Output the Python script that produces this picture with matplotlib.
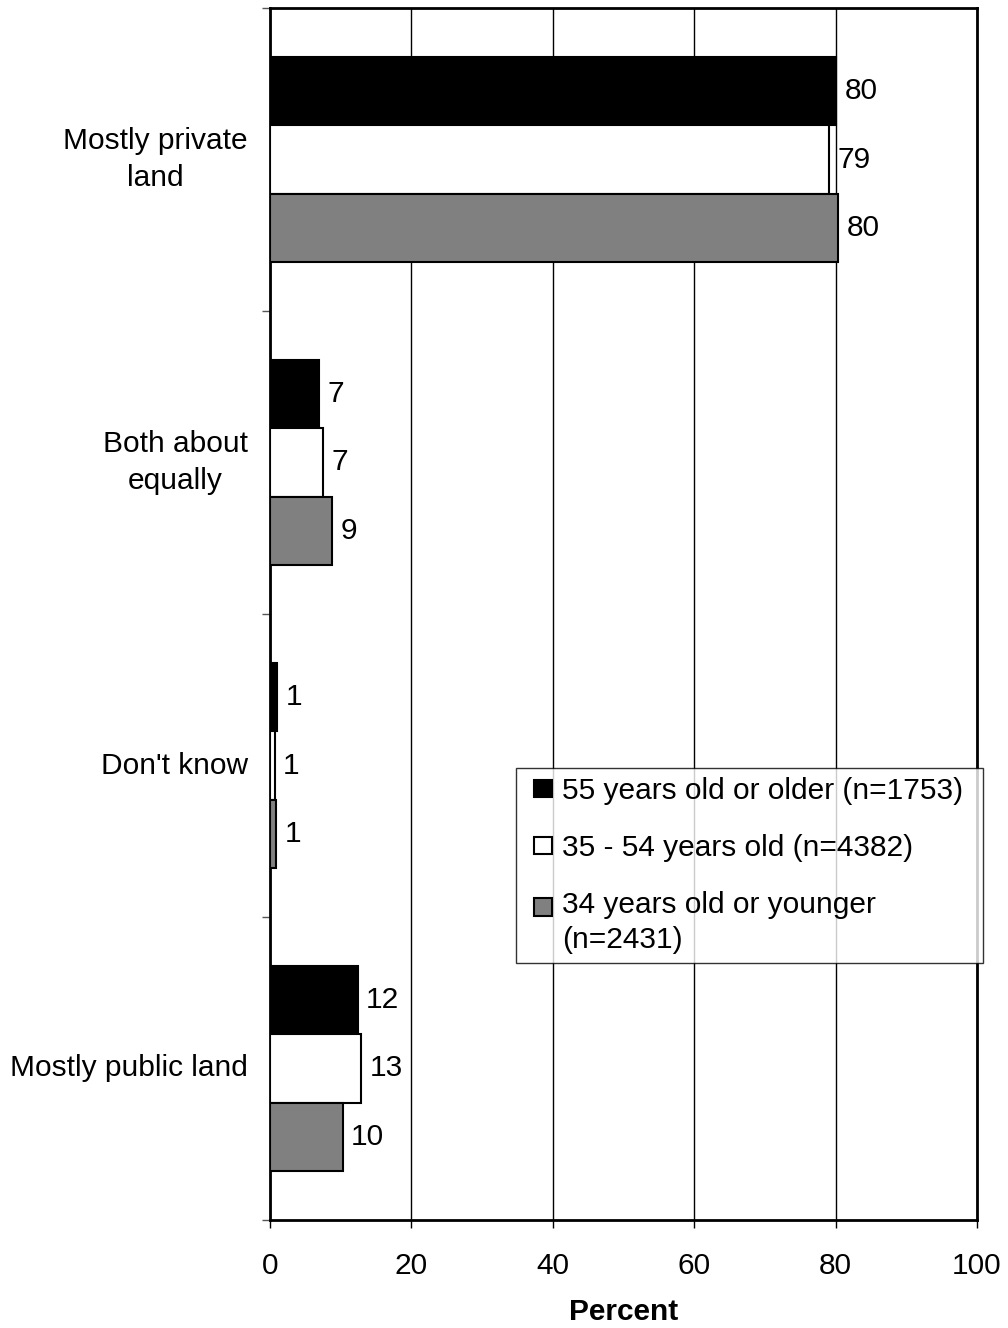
import matplotlib
matplotlib.use("Agg")
import matplotlib.pyplot as plt
from matplotlib.patches import Rectangle
from matplotlib.legend_handler import HandlerPatch, update_from_first_child
from matplotlib.container import BarContainer
import numpy as np

plt.rcParams['font.family'] = ['Liberation Sans', 'DejaVu Sans']

categories = ["Mostly private\nland", "Both about\nequally", "Don't know", "Mostly public land"]
series_names = ["55 years old or older (n=1753)",
                "35 - 54 years old (n=4382)",
                "34 years old or younger\n(n=2431)"]
values_55plus = [80.1, 7.0, 1.06, 12.4]
values_35_54 = [79.1, 7.5, 0.64, 12.9]
values_34minus = [80.4, 8.8, 0.87, 10.3]
labels_55plus = ["80", "7", "1", "12"]
labels_35_54 = ["79", "7", "1", "13"]
labels_34minus = ["80", "9", "1", "10"]
xticks = [0, 20, 40, 60, 80, 100]

colors = ["#000000", "#ffffff", "#808080"]
FS = 21.5

fig = plt.figure(figsize=(10.08, 13.28), dpi=100)
ax = fig.add_axes([270/1008, 1 - 1220/1328, 707/1008, 1212/1328])

n = len(categories)
ypos = np.arange(n)[::-1].astype(float)  # top to bottom
h = 0.225
offsets = [h, 0.0, -h]
all_vals = [values_55plus, values_35_54, values_34minus]
all_labels = [labels_55plus, labels_35_54, labels_34minus]

ax.set_axisbelow(True)
for i, (vals, labs, name) in enumerate(zip(all_vals, all_labels, series_names)):
    bars = ax.barh(ypos + offsets[i], vals, height=h, color=colors[i],
                   edgecolor="black", linewidth=1.5, label=name, zorder=3)
    for b, lab in zip(bars, labs):
        ax.annotate(lab, (b.get_width(), b.get_y() + b.get_height() / 2),
                    xytext=(6, 0), textcoords="offset points",
                    ha="left", va="center", fontsize=FS)

ax.set_xlim(0, 100)
ax.set_ylim(-0.5, n - 0.5)
ax.set_xticks(xticks)
ax.set_xticklabels([str(t) for t in xticks], fontsize=FS)
ax.tick_params(axis="x", direction="out", length=6, width=1, pad=17)
ax.xaxis.grid(True, color="black", linewidth=1)

ax.set_yticks(np.arange(-0.5, n, 1.0))
ax.set_yticklabels([])
ax.tick_params(axis="y", which="major", direction="out", length=6, width=1, color="#555555")
ax.set_yticks(ypos, minor=True)
ax.set_yticklabels(categories, minor=True, fontsize=FS)
ax.tick_params(axis="y", which="minor", length=0, pad=16)
for t in ax.get_yticklabels(minor=True):
    t.set_multialignment("center")
    t.set_linespacing(1.4)
    t.set_va("center")

for s in ax.spines.values():
    s.set_color("black")
    s.set_linewidth(2)

ax.set_xlabel("Percent", fontsize=FS, fontweight="bold", labelpad=13)


def square_right(legend, orig_handle, xdescent, ydescent, width, height, fontsize):
    sq = height
    shift = 0.0
    if "\n" in orig_handle.get_label():
        shift = 0.55 * fontsize
    return Rectangle((-xdescent + width - sq, -ydescent + shift), sq, sq)


x0 = (516 - 270) / 707
y0 = (1220 - 768) / 1212
w = (983 - 516) / 707
leg = ax.legend(loc="upper left", bbox_to_anchor=(x0, y0, w, 0), mode="expand",
                borderaxespad=0, fontsize=FS, frameon=True, fancybox=False,
                edgecolor="black", handlelength=0.9, handleheight=0.53,
                handletextpad=0.33, labelspacing=0.98, borderpad=0.3,
                handler_map={BarContainer: HandlerPatch(patch_func=square_right,
                                                        update_func=update_from_first_child)})
leg.get_frame().set_linewidth(1)
leg.set_zorder(5)
for t in leg.get_texts():
    t.set_linespacing(1.3)

fig.savefig("out.png", dpi=100)
